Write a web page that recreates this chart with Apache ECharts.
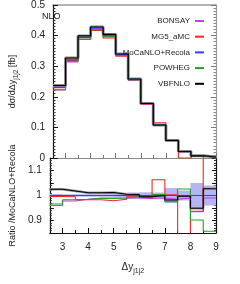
<!DOCTYPE html>
<html><head><meta charset="utf-8">
<script src="https://cdn.jsdelivr.net/npm/echarts@6/dist/echarts.min.js"></script>
<style>html,body{margin:0;padding:0;background:#fff}#c{width:240px;height:284px}</style>
</head><body><div id="c"></div>
<script>
// bin edges of Δy_j1j2
const binEdges = [2.5, 3, 3.5, 4, 4.5, 5, 5.5, 6, 6.5, 7, 7.5, 8, 8.5, 9];
// main panel dσ/dΔy [fb]
const bonsay  = [0.222, 0.314, 0.388, 0.419, 0.396, 0.335, 0.254, 0.177, 0.107, 0.057, 0.0208, 0.0070, 0.0030];
const mg5     = [0.230, 0.319, 0.388, 0.417, 0.392, 0.333, 0.256, 0.177, 0.115, 0.058, 0.0000, 0.0070, 0.0040];
const mocanlo = [0.231, 0.321, 0.394, 0.424, 0.400, 0.338, 0.257, 0.179, 0.108, 0.058, 0.0210, 0.0075, 0.0030];
const powheg  = [0.223, 0.316, 0.388, 0.419, 0.396, 0.335, 0.256, 0.178, 0.108, 0.057, 0.0215, 0.0068, 0.0026];
const vbfnlo  = [0.237, 0.327, 0.399, 0.428, 0.404, 0.340, 0.258, 0.178, 0.108, 0.057, 0.0210, 0.0071, 0.0031];
// ratio panel (/MoCaNLO+Recola)
const rBonsay  = [0.960, 0.978, 0.985, 0.990, 0.990, 0.990, 0.990, 0.988, 0.990, 0.985, 0.990, 0.935, 0.990];
const rMg5     = [0.996, 0.995, 0.983, 0.983, 0.979, 0.985, 0.995, 0.990, 1.063, 1.003, 0.000, 0.937, 1.400];
const rMocanlo = [1, 1, 1, 1, 1, 1, 1, 1, 1, 1, 1, 1, 1];
const rPowheg  = [0.966, 0.983, 0.985, 0.988, 0.988, 0.990, 0.995, 0.995, 1.004, 0.975, 1.026, 0.902, 0.857];
const rVbfnlo  = [1.025, 1.018, 1.011, 1.011, 1.012, 1.005, 1.004, 0.995, 1.000, 0.982, 0.997, 0.949, 1.027];
const bandLow  = [0.994, 0.995, 0.995, 0.995, 0.995, 0.994, 0.988, 0.987, 0.988, 0.970, 0.980, 0.950, 0.960];
const bandHigh = [1.006, 1.005, 1.005, 1.005, 1.005, 1.006, 1.012, 1.013, 1.012, 1.030, 1.020, 1.050, 1.040];
// ticks
const xLabels = [3, 4, 5, 6, 7, 8, 9];
const xMinor = [3.5, 4.5, 5.5, 6.5, 7.5, 8.5];
const yRatioLabels = [0.9, 1, 1.1];

const names = ['BONSAY', 'MG5_aMC', 'MoCaNLO+Recola', 'POWHEG', 'VBFNLO'];
const colors = ['#c43cf0', '#ff2222', '#3a3aff', '#22a022', '#000000'];
const mainVals = [bonsay, mg5, mocanlo, powheg, vbfnlo];
const ratioVals = [rBonsay, rMg5, rMocanlo, rPowheg, rVbfnlo];

function stepData(v) {
  const d = v.map((y, i) => [binEdges[i], y]);
  d.push([binEdges[binEdges.length - 1], v[v.length - 1]]);
  return d;
}
const FONT = 'Liberation Sans';
const chart = echarts.init(document.getElementById('c'), null, {renderer: 'canvas'});

const xBase = {type: 'value', min: 2.5, max: 9, splitLine: {show: false}};
const series = [];
// band
series.push({
  type: 'custom', xAxisIndex: 3, yAxisIndex: 2, z: 1,
  data: bandLow.map((lo, i) => [binEdges[i], binEdges[i + 1], lo, bandHigh[i]]),
  encode: {x: [0, 1], y: [2, 3]},
  renderItem: function (params, api) {
    const p0 = api.coord([api.value(0), api.value(3)]);
    const p1 = api.coord([api.value(1), api.value(2)]);
    const rect = echarts.graphic.clipRectByRect(
      {x: p0[0], y: p0[1], width: p1[0] - p0[0], height: p1[1] - p0[1]},
      {x: params.coordSys.x, y: params.coordSys.y, width: params.coordSys.width, height: params.coordSys.height});
    return rect && {type: 'rect', shape: rect, style: {fill: '#b4b4f6'}};
  }
});
// gray underlay for VBFNLO
series.push({type: 'line', step: 'end', symbol: 'none', xAxisIndex: 0, yAxisIndex: 0, z: 2,
  data: stepData(vbfnlo), lineStyle: {color: '#8a8a8a', width: 3}, silent: true});
series.push({type: 'line', step: 'end', symbol: 'none', xAxisIndex: 3, yAxisIndex: 2, z: 2,
  data: stepData(rVbfnlo), lineStyle: {color: '#999', width: 2.4}, silent: true});
const order = [0, 1, 3, 2, 4];
order.forEach(k => {
  series.push({name: names[k], type: 'line', step: 'end', symbol: 'none', clip: true,
    xAxisIndex: 0, yAxisIndex: 0, z: 3 + k,
    data: stepData(mainVals[k]), lineStyle: {color: colors[k], width: 1.1}, itemStyle: {color: colors[k]}});
  series.push({name: names[k], type: 'line', step: 'end', symbol: 'none', clip: true,
    xAxisIndex: 3, yAxisIndex: 2, z: 3 + k,
    data: stepData(ratioVals[k]), lineStyle: {color: colors[k], width: 1.1}, itemStyle: {color: colors[k]}});
});

const option = {
  animation: false,
  textStyle: {fontFamily: FONT},
  grid: [
    {left: 38, right: 24, top: 5, height: 153},
    {left: 38, right: 24, top: 158, height: 75}
  ],
  legend: {
    data: names, orient: 'vertical', align: 'right', right: 31, top: 11,
    itemWidth: 9, itemHeight: 2, itemGap: 5.7, icon: 'rect',
    textStyle: {fontSize: 8, color: '#222', fontFamily: FONT, lineHeight: 10}
  },
  xAxis: [
    Object.assign({}, xBase, {gridIndex: 0, position: 'bottom',
      axisLine: {lineStyle: {color: '#888', width: 1.2}},
      axisTick: {inside: true, length: 5, customValues: xLabels, lineStyle: {color: '#777'}},
      axisLabel: {show: false}}),
    Object.assign({}, xBase, {gridIndex: 0, position: 'bottom',
      axisLine: {show: false},
      axisTick: {inside: true, length: 3, customValues: xMinor, lineStyle: {color: '#777'}},
      axisLabel: {show: false}}),
    Object.assign({}, xBase, {gridIndex: 0, position: 'top',
      axisLine: {lineStyle: {color: '#999', width: 1.5}}, axisTick: {show: false}, axisLabel: {show: false}}),
    Object.assign({}, xBase, {gridIndex: 1, position: 'bottom',
      axisLine: {lineStyle: {color: '#111', width: 1.2}},
      axisTick: {inside: true, length: 5, customValues: xLabels, lineStyle: {color: '#111'}},
      axisLabel: {customValues: xLabels, fontSize: 10, color: '#222', margin: 9, fontFamily: FONT},
      name: '{a|Δy}{s|j1j2}', nameLocation: 'middle', nameGap: 25,
      nameTextStyle: {rich: {
        a: {fontSize: 10, color: '#222', fontFamily: FONT, lineHeight: 14, verticalAlign: 'bottom'},
        s: {fontSize: 7, color: '#222', fontFamily: FONT, lineHeight: 10, verticalAlign: 'bottom', padding: [0, 0, -3, 0]}
      }}}),
    Object.assign({}, xBase, {gridIndex: 1, position: 'bottom',
      axisLine: {show: false},
      axisTick: {inside: true, length: 3, customValues: xMinor, lineStyle: {color: '#111'}},
      axisLabel: {show: false}})
  ],
  yAxis: [
    {type: 'value', gridIndex: 0, min: 0, max: 0.5, interval: 0.1, position: 'left',
      axisLine: {show: true, lineStyle: {color: '#111', width: 1.2}},
      axisTick: {show: true, inside: true, length: 5, lineStyle: {color: '#111'}},
      minorTick: {show: true, splitNumber: 10, length: 2.5, lineStyle: {color: '#333'}},
      splitLine: {show: false},
      axisLabel: {fontSize: 10, color: '#222', margin: 8, fontFamily: FONT,
        formatter: v => (Math.round(v * 10) / 10).toString()},
      name: '{a|dσ/dΔy}{s|j1j2}{a| [fb]}', nameLocation: 'middle', nameRotate: 90, nameGap: 36,
      nameTextStyle: {rich: {
        a: {fontSize: 9, color: '#222', fontFamily: FONT, lineHeight: 12, verticalAlign: 'bottom'},
        s: {fontSize: 6.5, color: '#222', fontFamily: FONT, lineHeight: 9, verticalAlign: 'bottom', padding: [0, 0, -3, 0]}
      }}},
    {type: 'value', gridIndex: 0, min: 0, max: 0.5, interval: 0.1, position: 'right',
      axisLine: {show: true, lineStyle: {color: '#999', width: 1.2}},
      axisTick: {show: true, inside: true, length: 5, lineStyle: {color: '#777'}},
      minorTick: {show: true, splitNumber: 10, length: 2.5, lineStyle: {color: '#888'}},
      splitLine: {show: false}, axisLabel: {show: false}},
    {type: 'value', gridIndex: 1, min: 0.85, max: 1.15, interval: 0.05, position: 'left',
      axisLine: {show: true, lineStyle: {color: '#111', width: 1.2}},
      axisTick: {show: true, inside: true, length: 4, lineStyle: {color: '#111'}},
      minorTick: {show: true, splitNumber: 5, length: 2, lineStyle: {color: '#333'}},
      splitLine: {show: false},
      axisLabel: {customValues: yRatioLabels, fontSize: 10, color: '#222', margin: 8, fontFamily: FONT,
        formatter: v => (Math.round(v * 10) / 10).toString()},
      name: 'Ratio /MoCaNLO+Recola', nameLocation: 'middle', nameRotate: 90, nameGap: 32,
      nameTextStyle: {fontSize: 9, color: '#222', fontFamily: FONT}},
    {type: 'value', gridIndex: 1, min: 0.85, max: 1.15, interval: 0.05, position: 'right',
      axisLine: {show: true, lineStyle: {color: '#111', width: 1.2}},
      axisTick: {show: true, inside: true, length: 4, lineStyle: {color: '#111'}},
      minorTick: {show: true, splitNumber: 5, length: 2, lineStyle: {color: '#333'}},
      splitLine: {show: false}, axisLabel: {show: false}}
  ],
  graphic: [
    {type: 'text', left: 42, top: 12, style: {text: 'NLO', fontSize: 9, fill: '#222', fontFamily: FONT}}
  ],
  series: series
};
chart.setOption(option);
</script>
</body></html>
